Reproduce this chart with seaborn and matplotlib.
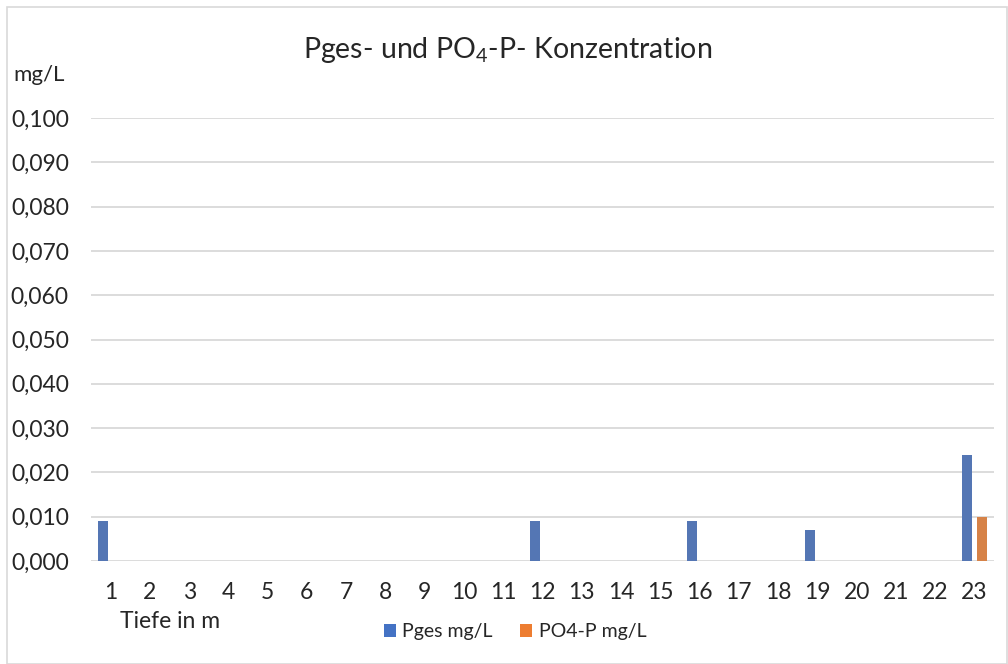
import numpy as np
import pandas as pd
import matplotlib
matplotlib.use('Agg')
import matplotlib.pyplot as plt
import seaborn as sns
from matplotlib.patches import Patch, Rectangle

# data
tiefe = [str(i) for i in range(1, 24)]
pges = [0.009, 0, 0, 0, 0, 0, 0, 0, 0, 0, 0, 0.009, 0, 0, 0, 0.009, 0, 0, 0.007, 0, 0, 0, 0.024]
po4p = [0, 0, 0, 0, 0, 0, 0, 0, 0, 0, 0, 0, 0, 0, 0, 0, 0, 0, 0, 0, 0, 0, 0.010]
series = ['Pges mg/L', 'PO4-P mg/L']
colors = ['#4472C4', '#ED7D31']
yticks = [i / 100 for i in range(0, 11)]

df = pd.DataFrame({
    'Tiefe': tiefe * 2,
    'Wert': pges + po4p,
    'Serie': [series[0]] * len(tiefe) + [series[1]] * len(tiefe),
})

sns.set_style('white')
plt.rcParams['font.family'] = ['Lato', 'DejaVu Sans']
plt.rcParams['mathtext.fontset'] = 'custom'
plt.rcParams['mathtext.rm'] = 'Lato'
plt.rcParams['mathtext.it'] = 'Lato'

fig = plt.figure(figsize=(10.08, 6.64), dpi=100)
ax = fig.add_axes([91 / 1008, 1 - 561 / 664, 903 / 1008, 443 / 664])

sns.barplot(data=df, x='Tiefe', y='Wert', hue='Serie', order=tiefe,
            hue_order=series, palette=colors, width=0.76, gap=0.37,
            linewidth=0, errorbar=None, legend=False, ax=ax)

ax.set_ylim(0, 0.1)
ax.set_xlim(-0.5, len(tiefe) - 0.5)
ax.set_yticks(yticks)
ax.set_yticklabels([f'{v:.3f}'.replace('.', ',') for v in yticks])
ax.yaxis.grid(True, color='#d9d9d9', linewidth=1.3)
ax.set_axisbelow(True)
for s in ax.spines.values():
    s.set_visible(False)
ax.tick_params(axis='y', length=0, pad=16, labelsize=16.5, colors='#262626')
ax.tick_params(axis='x', length=0, pad=15, labelsize=16.5, colors='#262626')
ax.set_xlabel('')
ax.set_ylabel('')

fig.text(13 / 1008, 1 - 75 / 664, 'mg/L', fontsize=16, color='#262626', va='center')
fig.text(120 / 1008, 1 - 622 / 664, 'Tiefe in m', fontsize=16.5, color='#262626', va='center')
fig.text(508 / 1008, 1 - 50 / 664, r'Pges- und PO$_4$-P- Konzentration',
         fontsize=20.5, color='#262626', ha='center', va='center')

handles = [Patch(facecolor=c, edgecolor='none') for c in colors]
fig.legend(handles, series, loc='center', bbox_to_anchor=(515 / 1008, 1 - 632 / 664),
           ncol=2, frameon=False, fontsize=14, handlelength=0.6, handleheight=0.6,
           handletextpad=0.35, columnspacing=1.4, labelcolor='#262626')

fig.patches.append(Rectangle((7 / 1008, 0.5 / 664), 1 - 8 / 1008, 1 - 7 / 664,
                             transform=fig.transFigure, fill=False,
                             edgecolor='#d9d9d9', linewidth=1.2))

fig.savefig('out.png', dpi=100)
